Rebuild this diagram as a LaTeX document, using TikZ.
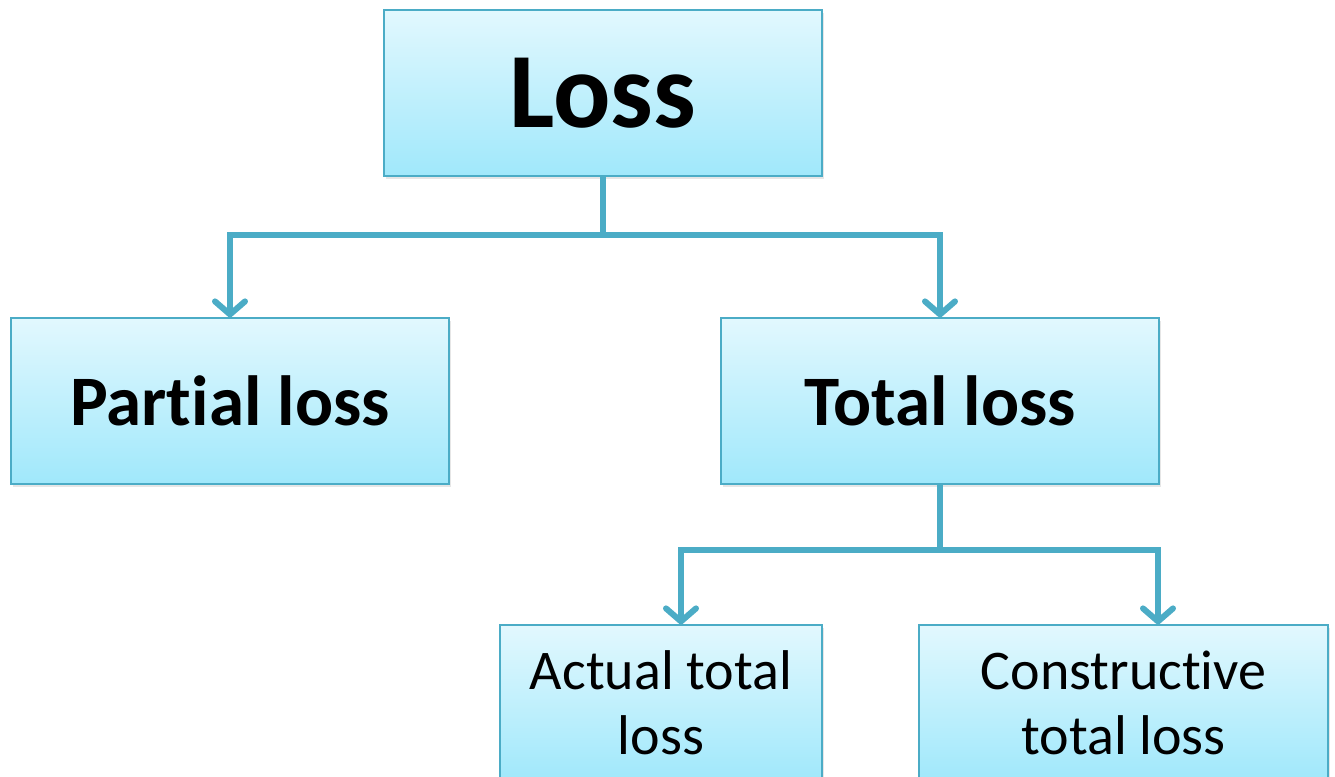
\documentclass[tikz,border=0pt]{standalone}
\usepackage{fontspec}
\setmainfont{Carlito}[Ligatures=NoCommon]
\usetikzlibrary{arrows.meta,shadows}
\definecolor{edgec}{HTML}{4BACC6}
\definecolor{topc}{HTML}{E2F8FE}
\definecolor{botc}{HTML}{A0E8FB}
\begin{document}
\begin{tikzpicture}[x=1pt,y=-1pt,
  box/.style={draw=edgec, line width=1.2pt, top color=topc, bottom color=botc,
    inner sep=0pt, align=center,
    drop shadow={shadow xshift=2pt, shadow yshift=-3pt, opacity=0.2}},
  small/.style={font=\fontsize{56}{65}\selectfont},
  link/.style={draw=edgec, line width=6pt},
  arr/.style={link, -{Straight Barb[length=13pt,width=30pt,line cap=round,line join=round]}}]
\useasboundingbox (0,0) rectangle (1335,776);
\clip (0,0) rectangle (1335,776);
\node[box, minimum width=438pt, minimum height=166pt, font=\fontsize{107}{107}\selectfont\bfseries] (loss) at (603,93) {Loss};
\node[box, minimum width=438pt, minimum height=166pt, font=\fontsize{71}{71}\selectfont\bfseries] (partial) at (230,401) {Partial loss};
\node[box, minimum width=438pt, minimum height=166pt, font=\fontsize{71}{71}\selectfont\bfseries] (total) at (940,401) {Total loss};
\node[box, small, minimum width=322pt, minimum height=156pt] (actual) at (661,703) {Actual total\\loss};
\node[box, small, minimum width=409pt, minimum height=156pt] (constr) at (1123.5,703) {Constructive\\total loss};
\coordinate (j1) at (603,235);
\coordinate (j2) at (940,550);
\draw[link] (loss.south) -- (j1);
\draw[arr] (j1) -| (partial.north);
\draw[arr] (j1) -| (total.north);
\draw[link] (total.south) -- (j2);
\draw[arr] (j2) -| ([xshift=20pt]actual.north);
\draw[arr] (j2) -| ([xshift=34.5pt]constr.north);
\end{tikzpicture}
\end{document}
